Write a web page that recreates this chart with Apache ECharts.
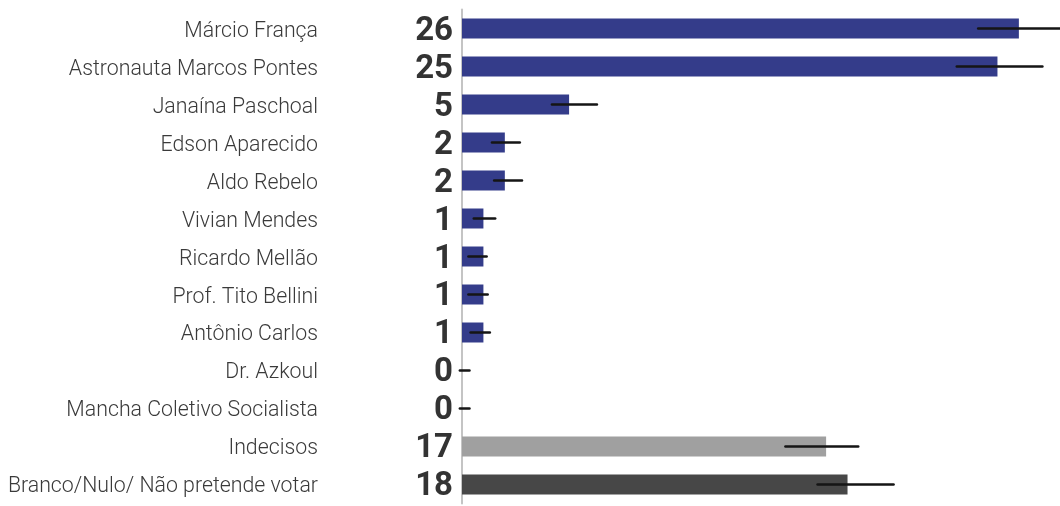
<!DOCTYPE html>
<html>
<head>
<meta charset="utf-8">
<script src="https://cdn.jsdelivr.net/npm/echarts@6/dist/echarts.min.js"></script>
<style>html,body{margin:0;padding:0;background:#fff}#c{width:1060px;height:506px}</style>
</head>
<body>
<div id="c"></div>
<script>
const categories = ["Márcio França","Astronauta Marcos Pontes","Janaína Paschoal","Edson Aparecido","Aldo Rebelo","Vivian Mendes","Ricardo Mellão","Prof. Tito Bellini","Antônio Carlos","Dr. Azkoul","Mancha Coletivo Socialista","Indecisos","Branco/Nulo/ Não pretende votar"];
const values = [26,25,5,2,2,1,1,1,1,0,0,17,18];
const errLow = [24.1,23.1,4.2,1.4,1.5,0.55,0.3,0.3,0.4,-0.1,-0.1,15.1,16.6];
const errHigh = [28.1,27.1,6.3,2.7,2.8,1.55,1.15,1.2,1.3,0.35,0.35,18.5,20.15];

const chart = echarts.init(document.getElementById('c'), null, {renderer:'canvas'});
function barColor(name){
  if (name === "Indecisos") return '#a0a0a0';
  if (name === "Branco/Nulo/ Não pretende votar") return '#474747';
  return '#343c8a';
}
chart.setOption({
  animation:false,
  grid:[
    {left:462, right:0, top:9.5, height:494, containLabel:false},
    {left:462, right:0, top:12.5, height:494, containLabel:false}
  ],
  xAxis:[
    {type:'value', gridIndex:0, min:0, max:27.92, show:false},
    {type:'value', gridIndex:1, min:0, max:27.92, show:false}
  ],
  yAxis:[
    {type:'category', gridIndex:0, data:categories, inverse:true, position:'left', offset:2,
     axisLine:{show:true, lineStyle:{color:'#c4c4c4', width:2}},
     axisTick:{show:false}, axisLabel:{show:false}},
    {type:'category', gridIndex:1, data:categories, inverse:true, position:'left', offset:2,
     axisLine:{show:false}, axisTick:{show:false},
     axisLabel:{interval:0, hideOverlap:false, margin:142, fontFamily:'Roboto', fontWeight:300, fontSize:21.3, color:'#3a3a3a'}},
    {type:'category', gridIndex:1, data:categories, inverse:true, position:'left', offset:2,
     axisLine:{show:false}, axisTick:{show:false},
     axisLabel:{interval:0, hideOverlap:false, margin:7, fontFamily:'Roboto', fontWeight:'bold', fontSize:33, color:'#333',
       formatter:(v, i)=> String(values[i])}}
  ],
  series:[
    {type:'bar', xAxisIndex:0, yAxisIndex:0, barWidth:20,
     data: values.map((v,i)=>({value:v, itemStyle:{color:barColor(categories[i])}}))},
    {type:'custom', xAxisIndex:0, yAxisIndex:0, clip:false,
     data: categories.map((c,i)=>[errLow[i], errHigh[i], i]),
     renderItem:(params, api)=>{
       const i = api.value(2);
       const p1 = api.coord([api.value(0), i]);
       const p2 = api.coord([api.value(1), i]);
       return {type:'line', shape:{x1:p1[0], y1:p1[1], x2:p2[0], y2:p2[1]},
         style:{stroke:'#151515', lineWidth:2.5, lineCap:'round'}};
     },
     z:5}
  ]
});
</script>
</body>
</html>
